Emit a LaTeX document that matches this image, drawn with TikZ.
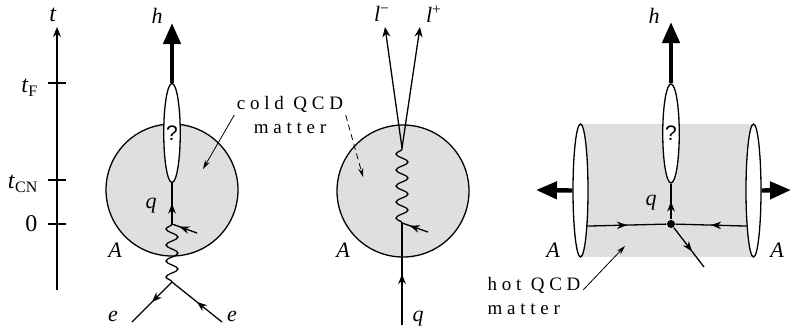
\documentclass[tikz,border=0pt]{standalone}
\usepackage{fontspec}
\setmainfont{Liberation Serif}
\newfontfamily\qfont{Liberation Sans}
\newfontfamily\spfont[LetterSpace=25]{Liberation Serif}
\usetikzlibrary{shapes.geometric, arrows.meta, decorations.pathmorphing, decorations.markings}

\begin{document}
\begin{tikzpicture}[
        x=0.5pt, y=-0.5pt, line width=0.65pt,
        nucleus/.style={circle, draw, fill=gray!25, minimum size=66pt, inner sep=0pt},
        fireball/.style={rectangle, fill=gray!25, minimum width=86.5pt, minimum height=66.5pt, inner sep=0pt},
        blob/.style={ellipse, draw, fill=white, minimum width=8pt, minimum height=49.5pt, inner sep=0pt, font=\qfont\fontsize{10.5}{12}\selectfont},
        disk/.style={ellipse, draw, fill=white, minimum width=7.5pt, minimum height=66.5pt, inner sep=0pt},
        vtxdot/.style={circle, fill=black, minimum size=4pt, inner sep=0pt},
        lab/.style={font=\itshape\fontsize{11}{13}\selectfont, inner sep=1pt},
        axlab/.style={font=\fontsize{12}{14}\selectfont, inner sep=1pt},
        note/.style={font=\spfont\fontsize{9.5}{12}\selectfont, inner sep=1pt},
        fermion/.style={postaction={decorate}, decoration={markings, mark=at position #1 with {\arrow{Stealth[length=5pt, width=3.8pt]}}}},
        fermion/.default=0.5,
        photon/.style={decorate, decoration={snake, segment length=8pt, amplitude=3pt}},
        hadron/.style={line width=2.2pt, -{Triangle[length=10.5pt, width=8.5pt]}},
        lepton/.style={-{Stealth[length=5pt, width=4pt]}},
        pointer/.style={line width=0.4pt, -{Stealth[length=4.5pt, width=2.6pt]}}
    ]
    \useasboundingbox (0,0) rectangle (792,327);

    % --- time axis ---
    \coordinate (tbot) at (57,290);
    \coordinate (ttop) at (57,27);
    \coordinate (tickF) at (57,83);
    \coordinate (tickCN) at (57,180);
    \coordinate (tickO) at (57,224);
    \draw[lepton] (tbot) -- (ttop);
    \draw ([xshift=-4.5pt]tickF) -- ([xshift=4.5pt]tickF);
    \draw ([xshift=-4.5pt]tickCN) -- ([xshift=4.5pt]tickCN);
    \draw ([xshift=-4.5pt]tickO) -- ([xshift=4.5pt]tickO);
    \node[axlab] (lt) at (53,15) {\textit{t}};
    \node[axlab, anchor=east] (ltF) at (41,88) {\textit{t}\textsubscript{F}};
    \node[axlab, anchor=east] (ltCN) at (41,184) {\textit{t}\textsubscript{CN}};
    \node[axlab, anchor=east] (ltO) at (40,224) {0};

    % --- e + A ---
    \node[nucleus] (nuc1) at (172,190) {};
    \node[blob] (fz1) at (172,133) {?};
    \coordinate (q1) at (172,224);
    \coordinate (gv1) at (172,282);
    \coordinate (ein) at (222,322);
    \coordinate (eout) at (132,322);
    \coordinate (g1) at (197,233);
    \coordinate (h1) at (172,23);
    \draw[hadron] (fz1.north) -- (h1);
    \draw[fermion] (q1) -- (fz1.south);
    \draw[photon] (gv1) -- (q1);
    \draw[fermion] (ein) -- (gv1);
    \draw[fermion] (gv1) -- (eout);
    \draw[fermion=0.7] (g1) -- (q1);
    \node[lab] (lh1) at (157,16) {h};
    \node[lab] (lq1) at (151,206) {q};
    \node[lab] (lA1) at (115,250) {A};
    \node[lab] (le1) at (113,316) {e};
    \node[lab] (le2) at (232,316) {e};

    % --- q + A -> l+ l- ---
    \node[nucleus] (nuc2) at (403,191) {};
    \coordinate (qin2) at (402,325);
    \coordinate (gv2) at (402,223);
    \coordinate (ll) at (402,148);
    \coordinate (lm) at (385,27);
    \coordinate (lp) at (420,27);
    \coordinate (g2) at (428,232);
    \draw[fermion] (qin2) -- (gv2);
    \draw[photon] (gv2) -- (ll);
    \draw[lepton] (ll) -- (lm);
    \draw[lepton] (ll) -- (lp);
    \draw[fermion=0.7] (g2) -- (gv2);
    \node[lab] (llm) at (382,14) {l\textsuperscript{\upshape −}};
    \node[lab] (llp) at (434,14) {l\textsuperscript{\upshape +}};
    \node[lab] (lq2) at (418,319) {q};
    \node[lab] (lA2) at (343,250) {A};

    % --- cold QCD matter ---
    \node[note, align=center] (cold) at (290,115) {cold QCD\\matter};
    \coordinate (cp1) at (203,169);
    \coordinate (cp2) at (363,177);
    \draw[pointer] (cold.west) -- (cp1);
    \draw[pointer, densely dashed] (cold.east) -- (cp2);

    % --- A + A ---
    \node[fireball] (qgp) at (666.5,190.5) {};
    \node[disk] (nucL) at (580.5,190.5) {};
    \node[disk] (nucR) at (753.5,190.5) {};
    \node[blob] (fz3) at (671,133.5) {?};
    \node[vtxdot] (v3) at (671,224) {};
    \coordinate (h3) at (671,22);
    \coordinate (pL) at (536,190);
    \coordinate (pR) at (791,190);
    \coordinate (gout) at (704,267);
    \draw[hadron] (nucL.west) -- (pL);
    \draw[hadron] (nucR.east) -- (pR);
    \draw[hadron] (fz3.north) -- (h3);
    \draw[fermion] (nucL.-79) -- (v3);
    \draw[fermion] (nucR.-101) -- (v3);
    \draw[fermion] (v3) -- (fz3.south);
    \draw[fermion=0.6] (v3) -- (gout);
    \node[lab] (lh3) at (654,16) {h};
    \node[lab] (lq3) at (651,203) {q};
    \node[lab] (lA3) at (553,250) {A};
    \node[lab] (lA4) at (777,250) {A};

    % --- hot QCD matter ---
    \node[note, align=left] (hot) at (534,296) {hot QCD\\matter};
    \coordinate (hp) at (625,246);
    \draw[pointer] ([yshift=3pt]hot.east) -- (hp);

\end{tikzpicture}
\end{document}
